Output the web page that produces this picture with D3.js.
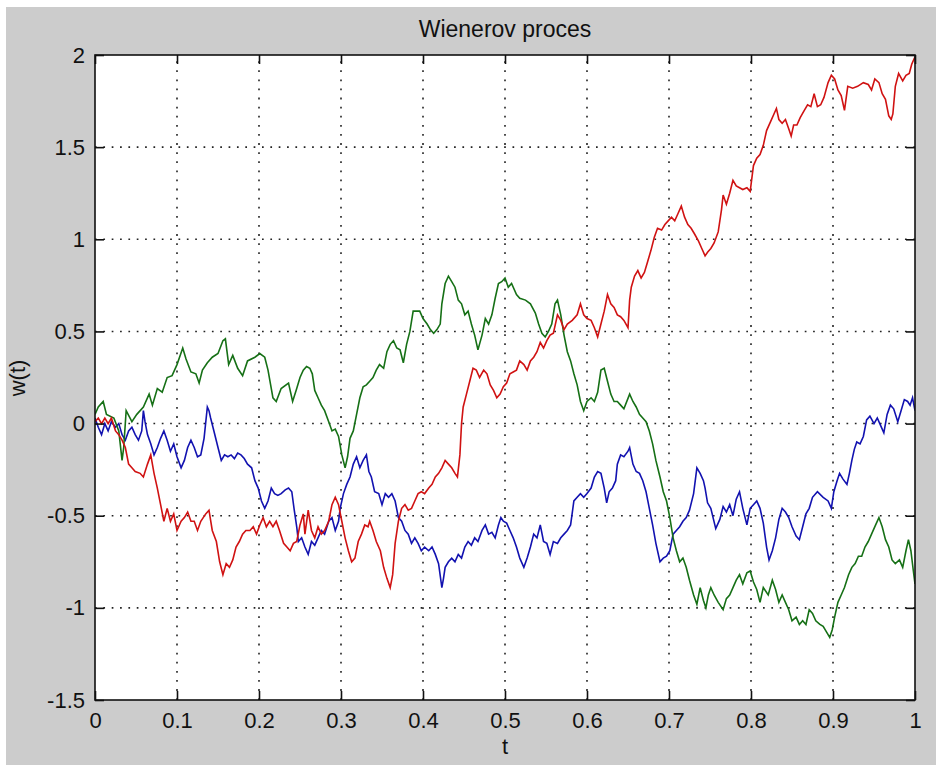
<!DOCTYPE html>
<html>
<head>
<meta charset="utf-8">
<script src="https://cdn.jsdelivr.net/npm/d3@7"></script>
<style>
  body { margin: 0; background: #ffffff; }
  text { font-family: "Liberation Sans", Arial, Helvetica, sans-serif; fill: #111; }
</style>
</head>
<body>
<svg id="chart" width="936" height="765"></svg>
<script>
// ---- labels and ticks ----
const titleText = "Wienerov proces";
const xLabelText = "t";
const yLabelText = "w(t)";
const xTicks = [0, 0.1, 0.2, 0.3, 0.4, 0.5, 0.6, 0.7, 0.8, 0.9, 1];
const yTicks = [-1.5, -1, -0.5, 0, 0.5, 1, 1.5, 2];

// ---- three sample paths, [t, w(t)] ----
const pathBlue = [
  [0.000,0.03],[0.004,-0.02],[0.008,-0.06],[0.012,0.00],[0.016,-0.04],[0.020,0.01],[0.025,-0.02],[0.029,0.00],
  [0.033,-0.06],[0.037,-0.09],[0.041,-0.04],[0.045,-0.02],[0.049,-0.06],[0.053,-0.09],[0.057,-0.04],[0.059,0.07],
  [0.061,0.01],[0.064,-0.06],[0.068,-0.11],[0.072,-0.17],[0.076,-0.13],[0.080,-0.08],[0.084,-0.04],[0.088,-0.09],
  [0.092,-0.15],[0.096,-0.11],[0.100,-0.18],[0.105,-0.24],[0.109,-0.20],[0.113,-0.13],[0.117,-0.09],[0.121,-0.13],
  [0.125,-0.18],[0.129,-0.17],[0.133,-0.08],[0.137,0.09],[0.139,0.07],[0.141,0.03],[0.145,-0.04],[0.150,-0.13],
  [0.154,-0.20],[0.158,-0.17],[0.162,-0.18],[0.166,-0.17],[0.170,-0.19],[0.174,-0.16],[0.178,-0.17],[0.182,-0.19],
  [0.186,-0.22],[0.191,-0.24],[0.195,-0.31],[0.199,-0.35],[0.203,-0.42],[0.207,-0.46],[0.211,-0.42],[0.215,-0.35],
  [0.219,-0.38],[0.223,-0.39],[0.227,-0.38],[0.232,-0.36],[0.236,-0.35],[0.240,-0.37],[0.243,-0.47],[0.246,-0.56],
  [0.248,-0.64],[0.252,-0.62],[0.256,-0.67],[0.260,-0.71],[0.264,-0.64],[0.268,-0.66],[0.272,-0.62],[0.276,-0.58],
  [0.280,-0.60],[0.285,-0.53],[0.289,-0.51],[0.293,-0.58],[0.297,-0.53],[0.299,-0.46],[0.303,-0.38],[0.307,-0.33],
  [0.311,-0.29],[0.315,-0.22],[0.319,-0.18],[0.323,-0.24],[0.327,-0.20],[0.331,-0.17],[0.334,-0.26],[0.337,-0.29],
  [0.341,-0.37],[0.346,-0.38],[0.350,-0.44],[0.354,-0.38],[0.358,-0.40],[0.362,-0.38],[0.366,-0.42],[0.370,-0.51],
  [0.374,-0.53],[0.378,-0.58],[0.382,-0.60],[0.386,-0.65],[0.390,-0.62],[0.394,-0.65],[0.398,-0.69],[0.402,-0.67],
  [0.407,-0.69],[0.411,-0.67],[0.415,-0.71],[0.419,-0.76],[0.423,-0.89],[0.425,-0.84],[0.427,-0.78],[0.431,-0.75],
  [0.435,-0.73],[0.439,-0.75],[0.443,-0.71],[0.447,-0.73],[0.451,-0.67],[0.455,-0.64],[0.459,-0.66],[0.463,-0.62],
  [0.467,-0.64],[0.472,-0.58],[0.476,-0.55],[0.480,-0.60],[0.484,-0.59],[0.488,-0.62],[0.492,-0.55],[0.495,-0.51],
  [0.498,-0.53],[0.502,-0.54],[0.506,-0.58],[0.510,-0.62],[0.514,-0.67],[0.518,-0.73],[0.523,-0.78],[0.527,-0.73],
  [0.531,-0.67],[0.535,-0.60],[0.539,-0.62],[0.543,-0.55],[0.547,-0.64],[0.551,-0.65],[0.555,-0.71],[0.559,-0.64],
  [0.564,-0.65],[0.568,-0.62],[0.572,-0.60],[0.576,-0.58],[0.580,-0.55],[0.584,-0.42],[0.588,-0.40],[0.592,-0.38],
  [0.596,-0.40],[0.600,-0.38],[0.605,-0.35],[0.609,-0.29],[0.613,-0.26],[0.617,-0.27],[0.621,-0.35],[0.624,-0.43],
  [0.627,-0.37],[0.631,-0.35],[0.635,-0.31],[0.637,-0.22],[0.641,-0.17],[0.645,-0.18],[0.650,-0.15],[0.652,-0.13],
  [0.656,-0.22],[0.660,-0.26],[0.664,-0.27],[0.668,-0.31],[0.672,-0.37],[0.676,-0.46],[0.680,-0.55],[0.684,-0.65],
  [0.689,-0.75],[0.693,-0.73],[0.697,-0.72],[0.701,-0.69],[0.705,-0.60],[0.709,-0.58],[0.713,-0.56],[0.717,-0.53],
  [0.721,-0.51],[0.725,-0.47],[0.730,-0.38],[0.734,-0.24],[0.738,-0.27],[0.742,-0.31],[0.744,-0.35],[0.747,-0.43],
  [0.751,-0.46],[0.757,-0.57],[0.762,-0.52],[0.766,-0.45],[0.770,-0.48],[0.774,-0.44],[0.778,-0.50],[0.782,-0.41],
  [0.786,-0.37],[0.790,-0.46],[0.795,-0.55],[0.799,-0.46],[0.803,-0.44],[0.807,-0.42],[0.811,-0.46],[0.815,-0.54],
  [0.819,-0.67],[0.822,-0.74],[0.826,-0.69],[0.830,-0.62],[0.834,-0.52],[0.838,-0.46],[0.842,-0.48],[0.846,-0.51],
  [0.850,-0.56],[0.855,-0.61],[0.859,-0.63],[0.863,-0.56],[0.867,-0.49],[0.871,-0.46],[0.875,-0.40],[0.881,-0.37],
  [0.888,-0.40],[0.894,-0.42],[0.898,-0.46],[0.901,-0.37],[0.905,-0.31],[0.908,-0.27],[0.912,-0.30],[0.917,-0.33],
  [0.920,-0.27],[0.923,-0.20],[0.926,-0.14],[0.929,-0.10],[0.933,-0.11],[0.937,-0.07],[0.941,0.02],[0.945,0.04],
  [0.950,0.00],[0.954,0.03],[0.958,-0.01],[0.962,-0.05],[0.966,0.05],[0.970,0.10],[0.974,0.08],[0.979,0.01],
  [0.983,0.07],[0.987,0.13],[0.991,0.12],[0.994,0.10],[0.997,0.14],[1.000,0.07]
];

const pathGreen = [
  [0.000,0.05],[0.004,0.09],[0.010,0.12],[0.014,0.05],[0.023,0.03],[0.029,-0.04],[0.033,-0.20],[0.035,-0.13],
  [0.038,0.07],[0.045,0.01],[0.051,0.05],[0.059,0.09],[0.066,0.16],[0.070,0.10],[0.076,0.19],[0.082,0.17],
  [0.088,0.25],[0.094,0.26],[0.100,0.32],[0.107,0.41],[0.111,0.35],[0.117,0.28],[0.123,0.27],[0.127,0.22],
  [0.131,0.29],[0.137,0.33],[0.143,0.36],[0.150,0.38],[0.156,0.45],[0.159,0.46],[0.163,0.32],[0.168,0.37],
  [0.174,0.30],[0.180,0.26],[0.186,0.34],[0.195,0.36],[0.201,0.38],[0.207,0.36],[0.211,0.29],[0.217,0.14],
  [0.221,0.12],[0.227,0.19],[0.236,0.22],[0.241,0.12],[0.246,0.19],[0.250,0.25],[0.254,0.29],[0.258,0.31],
  [0.262,0.30],[0.265,0.27],[0.268,0.18],[0.272,0.14],[0.276,0.10],[0.280,0.07],[0.285,0.01],[0.289,-0.04],
  [0.293,-0.03],[0.297,-0.07],[0.301,-0.17],[0.305,-0.24],[0.308,-0.18],[0.311,-0.08],[0.315,-0.04],[0.319,0.05],
  [0.323,0.14],[0.327,0.20],[0.331,0.21],[0.335,0.23],[0.339,0.25],[0.343,0.29],[0.347,0.32],[0.352,0.30],
  [0.356,0.39],[0.360,0.43],[0.364,0.45],[0.368,0.41],[0.372,0.40],[0.376,0.33],[0.380,0.43],[0.384,0.50],
  [0.388,0.61],[0.392,0.61],[0.396,0.61],[0.400,0.57],[0.405,0.54],[0.409,0.51],[0.413,0.49],[0.417,0.51],
  [0.421,0.54],[0.423,0.65],[0.427,0.76],[0.431,0.80],[0.435,0.77],[0.439,0.74],[0.443,0.67],[0.447,0.65],
  [0.451,0.59],[0.455,0.61],[0.459,0.54],[0.463,0.48],[0.467,0.40],[0.472,0.48],[0.476,0.57],[0.480,0.54],
  [0.484,0.59],[0.488,0.68],[0.492,0.76],[0.496,0.77],[0.500,0.79],[0.504,0.74],[0.508,0.76],[0.514,0.70],
  [0.518,0.68],[0.525,0.67],[0.531,0.65],[0.537,0.60],[0.541,0.54],[0.545,0.49],[0.549,0.47],[0.553,0.50],
  [0.557,0.54],[0.561,0.65],[0.564,0.67],[0.568,0.59],[0.572,0.48],[0.576,0.39],[0.580,0.34],[0.584,0.27],
  [0.588,0.21],[0.592,0.12],[0.596,0.07],[0.600,0.12],[0.605,0.14],[0.609,0.12],[0.613,0.17],[0.617,0.29],
  [0.621,0.30],[0.625,0.23],[0.629,0.16],[0.633,0.12],[0.637,0.12],[0.641,0.10],[0.645,0.08],[0.652,0.16],
  [0.656,0.12],[0.660,0.09],[0.664,0.05],[0.668,0.03],[0.672,0.01],[0.676,-0.04],[0.680,-0.11],[0.684,-0.20],
  [0.689,-0.29],[0.693,-0.37],[0.697,-0.42],[0.701,-0.51],[0.705,-0.62],[0.709,-0.69],[0.713,-0.75],[0.717,-0.73],
  [0.721,-0.78],[0.725,-0.85],[0.730,-0.93],[0.734,-0.98],[0.738,-0.89],[0.742,-0.96],[0.745,-1.00],[0.748,-0.93],
  [0.751,-0.89],[0.755,-0.93],[0.760,-0.97],[0.766,-1.01],[0.770,-0.95],[0.774,-0.93],[0.778,-0.89],[0.782,-0.85],
  [0.786,-0.82],[0.790,-0.87],[0.795,-0.81],[0.799,-0.80],[0.803,-0.86],[0.807,-0.90],[0.811,-0.97],[0.815,-0.89],
  [0.821,-0.93],[0.826,-0.85],[0.830,-0.90],[0.834,-0.97],[0.838,-0.93],[0.842,-0.97],[0.846,-1.01],[0.850,-1.07],
  [0.855,-1.05],[0.859,-1.09],[0.863,-1.07],[0.867,-1.09],[0.871,-1.01],[0.875,-1.03],[0.879,-1.07],[0.884,-1.09],
  [0.888,-1.10],[0.892,-1.13],[0.896,-1.16],[0.899,-1.12],[0.902,-1.05],[0.906,-0.97],[0.910,-0.93],[0.914,-0.89],
  [0.919,-0.82],[0.923,-0.78],[0.927,-0.76],[0.931,-0.72],[0.935,-0.72],[0.939,-0.67],[0.943,-0.64],[0.947,-0.60],
  [0.952,-0.55],[0.956,-0.51],[0.960,-0.56],[0.964,-0.63],[0.968,-0.67],[0.972,-0.74],[0.976,-0.76],[0.981,-0.74],
  [0.985,-0.78],[0.989,-0.69],[0.992,-0.63],[0.995,-0.69],[0.998,-0.80],[1.000,-0.87]
];

const pathRed = [
  [0.000,0.01],[0.004,0.03],[0.008,0.00],[0.012,0.03],[0.016,0.00],[0.020,0.03],[0.025,-0.04],[0.029,-0.06],
  [0.033,-0.09],[0.037,-0.13],[0.041,-0.22],[0.045,-0.24],[0.049,-0.26],[0.055,-0.27],[0.059,-0.29],[0.064,-0.22],
  [0.068,-0.17],[0.072,-0.27],[0.076,-0.35],[0.080,-0.44],[0.084,-0.53],[0.088,-0.46],[0.092,-0.53],[0.096,-0.49],
  [0.100,-0.58],[0.105,-0.53],[0.109,-0.51],[0.113,-0.48],[0.117,-0.53],[0.121,-0.53],[0.125,-0.58],[0.129,-0.53],
  [0.135,-0.49],[0.139,-0.47],[0.143,-0.58],[0.148,-0.64],[0.152,-0.75],[0.156,-0.82],[0.160,-0.76],[0.164,-0.78],
  [0.168,-0.74],[0.172,-0.67],[0.176,-0.64],[0.180,-0.60],[0.184,-0.58],[0.189,-0.58],[0.193,-0.56],[0.197,-0.60],
  [0.201,-0.55],[0.205,-0.51],[0.209,-0.56],[0.213,-0.53],[0.217,-0.56],[0.221,-0.53],[0.225,-0.58],[0.230,-0.65],
  [0.234,-0.67],[0.238,-0.69],[0.242,-0.65],[0.246,-0.64],[0.250,-0.55],[0.254,-0.49],[0.256,-0.60],[0.260,-0.47],
  [0.264,-0.58],[0.268,-0.62],[0.272,-0.56],[0.276,-0.60],[0.280,-0.58],[0.285,-0.53],[0.289,-0.44],[0.293,-0.40],
  [0.297,-0.44],[0.301,-0.53],[0.305,-0.62],[0.309,-0.69],[0.313,-0.75],[0.317,-0.73],[0.321,-0.64],[0.325,-0.60],
  [0.329,-0.55],[0.333,-0.56],[0.335,-0.53],[0.339,-0.58],[0.343,-0.64],[0.348,-0.69],[0.352,-0.78],[0.356,-0.84],
  [0.360,-0.89],[0.363,-0.82],[0.366,-0.65],[0.370,-0.53],[0.374,-0.46],[0.378,-0.44],[0.382,-0.47],[0.386,-0.46],
  [0.390,-0.42],[0.394,-0.38],[0.398,-0.37],[0.402,-0.38],[0.407,-0.35],[0.411,-0.33],[0.415,-0.29],[0.419,-0.27],
  [0.423,-0.24],[0.427,-0.20],[0.431,-0.22],[0.435,-0.24],[0.439,-0.27],[0.442,-0.29],[0.445,-0.17],[0.447,0.00],
  [0.449,0.09],[0.453,0.16],[0.457,0.23],[0.461,0.30],[0.465,0.29],[0.469,0.25],[0.474,0.29],[0.478,0.27],
  [0.482,0.21],[0.486,0.18],[0.490,0.14],[0.494,0.16],[0.498,0.20],[0.502,0.22],[0.506,0.27],[0.510,0.28],
  [0.514,0.29],[0.518,0.34],[0.523,0.32],[0.527,0.29],[0.531,0.34],[0.535,0.36],[0.539,0.39],[0.543,0.44],
  [0.547,0.41],[0.551,0.45],[0.555,0.48],[0.559,0.49],[0.564,0.59],[0.568,0.56],[0.572,0.51],[0.576,0.54],
  [0.582,0.56],[0.588,0.59],[0.592,0.65],[0.596,0.59],[0.600,0.57],[0.605,0.56],[0.609,0.52],[0.613,0.47],
  [0.617,0.54],[0.621,0.61],[0.625,0.70],[0.629,0.65],[0.633,0.63],[0.637,0.59],[0.641,0.58],[0.645,0.56],
  [0.650,0.52],[0.652,0.67],[0.654,0.74],[0.658,0.80],[0.662,0.83],[0.666,0.79],[0.670,0.82],[0.674,0.88],
  [0.678,0.94],[0.682,1.01],[0.686,1.06],[0.691,1.05],[0.695,1.08],[0.699,1.10],[0.703,1.12],[0.707,1.10],
  [0.711,1.14],[0.715,1.18],[0.719,1.12],[0.723,1.08],[0.727,1.06],[0.731,1.03],[0.736,0.99],[0.740,0.95],
  [0.744,0.91],[0.747,0.93],[0.751,0.95],[0.755,0.98],[0.760,1.04],[0.764,1.16],[0.766,1.24],[0.770,1.19],
  [0.774,1.25],[0.778,1.32],[0.782,1.29],[0.786,1.28],[0.790,1.27],[0.795,1.28],[0.799,1.26],[0.803,1.40],
  [0.807,1.44],[0.811,1.46],[0.815,1.51],[0.819,1.59],[0.824,1.64],[0.828,1.68],[0.831,1.71],[0.834,1.65],
  [0.838,1.63],[0.842,1.65],[0.846,1.60],[0.849,1.56],[0.852,1.62],[0.856,1.62],[0.860,1.66],[0.865,1.70],
  [0.869,1.73],[0.873,1.72],[0.877,1.79],[0.881,1.72],[0.885,1.73],[0.889,1.77],[0.894,1.85],[0.898,1.89],
  [0.902,1.87],[0.906,1.81],[0.910,1.78],[0.914,1.70],[0.918,1.83],[0.924,1.82],[0.930,1.83],[0.937,1.85],
  [0.943,1.84],[0.947,1.81],[0.951,1.87],[0.956,1.85],[0.960,1.79],[0.964,1.76],[0.968,1.67],[0.971,1.65],
  [0.973,1.68],[0.976,1.83],[0.980,1.90],[0.985,1.86],[0.989,1.89],[0.993,1.90],[0.996,1.95],[1.000,1.99]
];

const seriesList = [
  { name: "w1", color: "#1212b0", values: pathBlue },
  { name: "w2", color: "#167016", values: pathGreen },
  { name: "w3", color: "#d01212", values: pathRed }
];

// ---- layout ----
const svg = d3.select("#chart");
const box = { left: 95, top: 55, right: 915, bottom: 700 };

const x = d3.scaleLinear().domain([0, 1]).range([box.left, box.right]);
const y = d3.scaleLinear().domain([-1.5, 2]).range([box.bottom, box.top]);

// figure background (grey panel) and white axes area
svg.append("rect").attr("x", 6).attr("y", 7).attr("width", 930).attr("height", 758).attr("fill", "#cccccc");
svg.append("rect")
  .attr("x", box.left).attr("y", box.top)
  .attr("width", box.right - box.left).attr("height", box.bottom - box.top)
  .attr("fill", "#ffffff");

// dotted grid
const grid = svg.append("g").attr("stroke", "#222").attr("stroke-width", 1.6);
grid.selectAll("line.gx")
  .data(xTicks.filter(d => d > 0 && d < 1))
  .join("line").attr("class", "gx")
  .attr("x1", d => x(d)).attr("x2", d => x(d))
  .attr("y1", box.bottom).attr("y2", box.top)
  .attr("stroke-dasharray", "1.8,7.3");
grid.selectAll("line.gy")
  .data(yTicks.filter(d => d > -1.5 && d < 2))
  .join("line").attr("class", "gy")
  .attr("x1", box.left).attr("x2", box.right)
  .attr("y1", d => y(d)).attr("y2", d => y(d))
  .attr("stroke-dasharray", "1.7,6.65");

// paths
svg.append("clipPath").attr("id", "plotClip")
  .append("rect").attr("x", box.left).attr("y", box.top)
  .attr("width", box.right - box.left).attr("height", box.bottom - box.top);

const line = d3.line().x(d => x(d[0])).y(d => y(d[1]));
svg.append("g").attr("clip-path", "url(#plotClip)")
  .selectAll("path")
  .data(seriesList)
  .join("path")
  .attr("d", d => line(d.values))
  .attr("fill", "none")
  .attr("stroke", d => d.color)
  .attr("stroke-width", 1.6)
  .attr("stroke-linejoin", "miter");

// axes with inward ticks on all four sides
const tickLen = 9;
const fmt = d => String(d);
function styleAxis(g) {
  g.select(".domain").remove();
  g.selectAll(".tick line").attr("stroke", "#111").attr("stroke-width", 1.6);
  g.selectAll(".tick text").attr("font-size", 22).attr("fill", "#111")
    .style("font-family", '"Liberation Sans", Arial, sans-serif');
}
svg.append("g").attr("transform", `translate(0,${box.bottom})`)
  .call(d3.axisBottom(x).tickValues(xTicks).tickFormat(fmt).tickSizeInner(-tickLen).tickSizeOuter(0).tickPadding(12))
  .call(styleAxis);
svg.append("g").attr("transform", `translate(${box.left},0)`)
  .call(d3.axisLeft(y).tickValues(yTicks).tickFormat(fmt).tickSizeInner(-tickLen).tickSizeOuter(0).tickPadding(10))
  .call(styleAxis);
svg.append("g").attr("transform", `translate(0,${box.top})`)
  .call(d3.axisTop(x).tickValues(xTicks).tickFormat("").tickSizeInner(-tickLen).tickSizeOuter(0))
  .call(styleAxis);
svg.append("g").attr("transform", `translate(${box.right},0)`)
  .call(d3.axisRight(y).tickValues(yTicks).tickFormat("").tickSizeInner(-tickLen).tickSizeOuter(0))
  .call(styleAxis);

// axes box
svg.append("rect")
  .attr("x", box.left).attr("y", box.top)
  .attr("width", box.right - box.left).attr("height", box.bottom - box.top)
  .attr("fill", "none").attr("stroke", "#111").attr("stroke-width", 1.6);

// title and axis labels
svg.append("text")
  .attr("x", (box.left + box.right) / 2).attr("y", 37)
  .attr("text-anchor", "middle").attr("font-size", 23)
  .text(titleText);
svg.append("text")
  .attr("x", (box.left + box.right) / 2).attr("y", 754)
  .attr("text-anchor", "middle").attr("font-size", 22)
  .text(xLabelText);
svg.append("text")
  .attr("transform", "translate(25,378) rotate(-90)")
  .attr("text-anchor", "middle").attr("font-size", 22)
  .text(yLabelText);
</script>
</body>
</html>
